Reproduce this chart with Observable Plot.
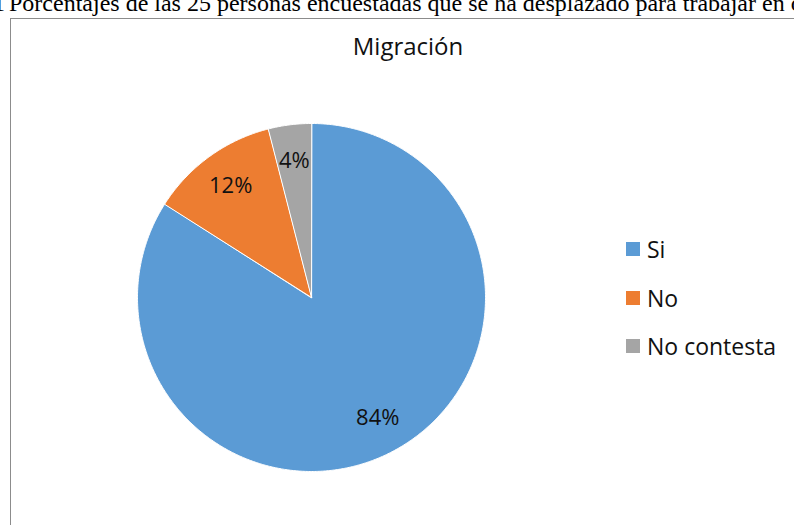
<!DOCTYPE html>
<html>
<head>
<meta charset="utf-8">
<script src="https://cdn.jsdelivr.net/npm/d3@7"></script>
<script src="https://cdn.jsdelivr.net/npm/@observablehq/plot@0.6"></script>
<style>
  html, body { margin: 0; padding: 0; background: #fff; }
  #wrap { position: relative; width: 794px; height: 525px; overflow: hidden; background: #fff; }
  #caption { position: absolute; left: 9px; top: -9px; font-family: "Liberation Serif", serif; font-size: 24px; line-height: 24px; white-space: nowrap; color: #000; }
  #caption .pre { position: absolute; right: 100%; padding-right: 4px; }
  #frame { position: absolute; left: 10px; top: 18px; width: 900px; height: 700px; border: 1px solid #8c8c8c; box-sizing: border-box; }
  #title { position: absolute; left: 0; width: 816px; top: 29px; text-align: center; font-family: "Open Sans", sans-serif; font-size: 24px; color: #111; }
  #chart { position: absolute; left: 0; top: 0; }
  #legend { position: absolute; left: 626px; top: 236px; font-family: "Open Sans", sans-serif; font-size: 23px; color: #111; }
  #legend .item { position: absolute; left: 0; white-space: nowrap; height: 26px; line-height: 26px; }
  #legend .sw { position: absolute; left: 0; top: 6px; width: 14px; height: 14px; }
  #legend .lb { position: absolute; left: 21px; top: 0; }
</style>
</head>
<body>
<div id="wrap">
  <div id="caption"><span class="pre">1</span>Porcentajes de las 25 personas encuestadas que se ha desplazado para trabajar en otro lugar</div>
  <div id="frame"></div>
  <div id="title">Migración</div>
  <div id="chart"></div>
  <div id="legend"></div>
</div>
<script>
const categories = ["Si", "No", "No contesta"];
const values = [84, 12, 4];
const labels = ["84%", "12%", "4%"];
const colors = ["#5B9BD5", "#ED7D31", "#A5A5A5"];

const total = d3.sum(values);
// build slice polygons (clockwise from 12 o'clock) in unit coordinates
const slices = [];
const labelRows = [];
let acc = 0;
categories.forEach((cat, i) => {
  const a0 = acc / total * 2 * Math.PI;
  acc += values[i];
  const a1 = acc / total * 2 * Math.PI;
  slices.push({cat, x: 0, y: 0});
  const n = Math.max(2, Math.ceil((a1 - a0) / (Math.PI / 360)));
  for (let k = 0; k <= n; k++) {
    const a = a0 + (a1 - a0) * k / n;
    slices.push({cat, x: Math.sin(a), y: Math.cos(a)});
  }
  const am = (a0 + a1) / 2;
  labelRows.push({cat, text: labels[i], x: 0.79 * Math.sin(am), y: 0.79 * Math.cos(am)});
});

const cx = 311, cy = 297, r = 174;
const plot = Plot.plot({
  width: 794,
  height: 525,
  style: {background: "transparent", overflow: "visible"},
  x: {domain: [-1, 1], range: [cx - r, cx + r], axis: null},
  y: {domain: [-1, 1], range: [cy + r, cy - r], axis: null},
  color: {domain: categories, range: colors},
  marks: [
    Plot.line(slices, {x: "x", y: "y", z: "cat", fill: "cat", stroke: "white", strokeWidth: 1, curve: "linear-closed"}),
    Plot.text(labelRows, {x: "x", y: "y", text: "text", fontSize: 22, fontFamily: "Open Sans", fill: "#111"})
  ]
});
document.getElementById("chart").appendChild(plot);

const legend = document.getElementById("legend");
categories.forEach((cat, i) => {
  const item = document.createElement("div");
  item.className = "item";
  item.style.top = (i * 48.5) + "px";
  item.innerHTML = `<span class="sw" style="background:${colors[i]}"></span><span class="lb">${cat}</span>`;
  legend.appendChild(item);
});
</script>
</body>
</html>
